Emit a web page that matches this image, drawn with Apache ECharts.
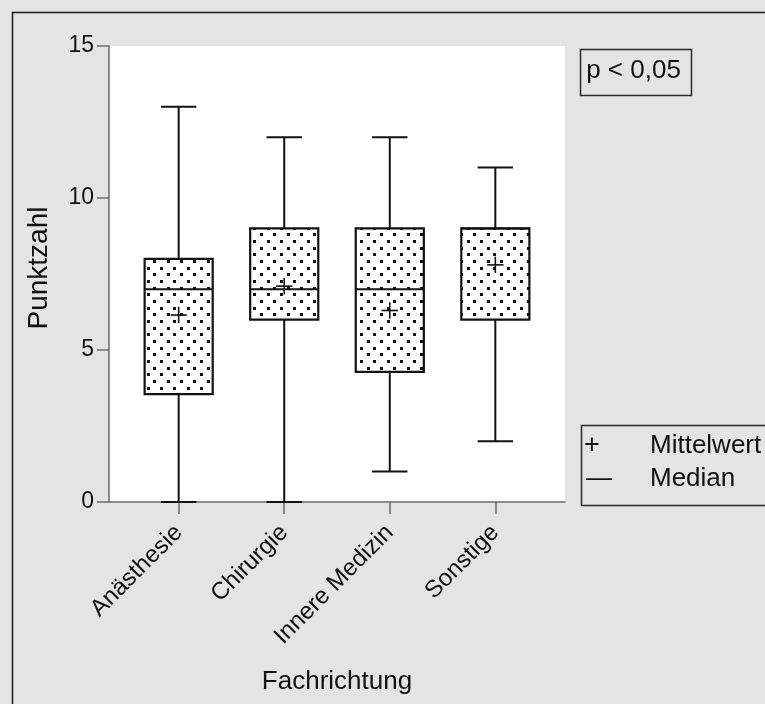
<!DOCTYPE html>
<html>
<head>
<meta charset="utf-8">
<script src="https://cdn.jsdelivr.net/npm/echarts@6/dist/echarts.min.js"></script>
<style>
html,body{margin:0;padding:0;background:#e4e4e4;}
#chart{width:765px;height:704px;}
</style>
</head>
<body>
<div id="chart"></div>
<script>
// ---- data ----
const categories = ['Anästhesie', 'Chirurgie', 'Innere Medizin', 'Sonstige'];
const minVals    = [0, 0, 1, 2];
const q1Vals     = [3.55, 6, 4.28, 6];
const medianVals = [7, 7, 7, 9];
const q3Vals     = [8, 9, 9, 9];
const maxVals    = [13, 12, 12, 11];
const meanVals   = [6.15, 7.1, 6.3, 7.8];
const yTicks     = [0, 5, 10, 15];
const pText      = 'p < 0,05';
const legendLabels = ['Mittelwert', 'Median'];
const legendSymbols = ['+', '—'];
const xTitle = 'Fachrichtung';
const yTitle = 'Punktzahl';

const FONT = "'Liberation Sans', Arial, Helvetica, sans-serif";

// dotted pattern tile
function makePattern() {
  const c = document.createElement('canvas');
  c.width = 40; c.height = 40;
  const g = c.getContext('2d');
  g.fillStyle = '#ffffff';
  g.fillRect(0, 0, 40, 40);
  g.fillStyle = '#111111';
  for (let r = 0; r < 6; r++) {
    const y = Math.round(r * 40 / 6);
    const off = (r % 2) * 40 / 6;
    for (let k = 0; k < 3; k++) {
      const x = Math.round(off + k * 40 / 3);
      g.fillRect(x, y, 3, 3);
    }
  }
  return c;
}
const patternCanvas = makePattern();

const boxData = categories.map((c, i) => [i, minVals[i], q1Vals[i], medianVals[i], q3Vals[i], maxVals[i], meanVals[i]]);

const BOX_W = 0.645, CAP_W = 0.335, PLUS_W = 0.155;

const chart = echarts.init(document.getElementById('chart'), null, {renderer: 'canvas'});
chart.setOption({
  backgroundColor: '#e4e4e4',
  animation: false,
  grid: {left: 109, top: 46, right: 200, bottom: 202, show: true, backgroundColor: '#ffffff', borderWidth: 0},
  xAxis: {
    type: 'value', min: -0.66, max: 3.66,
    name: xTitle, nameLocation: 'middle', nameGap: 167,
    nameTextStyle: {fontFamily: FONT, fontSize: 26, color: '#111'},
    axisLine: {show: true, onZero: false, lineStyle: {color: '#6b6b6b', width: 1.5}},
    axisTick: {show: true, length: 12, customValues: categories.map((c, i) => i), lineStyle: {color: '#6b6b6b', width: 1.5}},
    axisLabel: {show: true, customValues: categories.map((c, i) => i), rotate: 45, margin: 27,
      fontFamily: FONT, fontSize: 24, color: '#111',
      formatter: v => categories[Math.round(v)]},
    splitLine: {show: false}
  },
  yAxis: {
    type: 'value', min: 0, max: 15, interval: 5,
    name: yTitle, nameLocation: 'middle', nameGap: 56,
    nameTextStyle: {fontFamily: FONT, fontSize: 28, color: '#111', padding: [0, 0, 0, 12]},
    axisLine: {show: true, onZero: false, lineStyle: {color: '#6b6b6b', width: 1.5}},
    axisTick: {show: true, length: 12, lineStyle: {color: '#6b6b6b', width: 1.5}},
    axisLabel: {show: true, margin: 15, fontFamily: FONT, fontSize: 23, color: '#111',
      formatter: v => (yTicks.indexOf(v) >= 0 ? String(v) : '')},
    splitLine: {show: false}
  },
  series: [{
    type: 'custom',
    data: boxData,
    encode: {x: 0, y: [1, 2, 3, 4, 5, 6]},
    clip: false,
    renderItem: function (params, api) {
      const x = api.value(0);
      const pMin = api.coord([x, api.value(1)]);
      const pQ1 = api.coord([x, api.value(2)]);
      const pMed = api.coord([x, api.value(3)]);
      const pQ3 = api.coord([x, api.value(4)]);
      const pMax = api.coord([x, api.value(5)]);
      const pMean = api.coord([x, api.value(6)]);
      const bw = api.size([BOX_W, 0])[0];
      const cw = api.size([CAP_W, 0])[0];
      const pw = api.size([PLUS_W, 0])[0];
      const cx = pMin[0];
      const ls = {stroke: '#111', lineWidth: 2, fill: null};
      return {
        type: 'group',
        children: [
          {type: 'line', shape: {x1: cx, y1: pMax[1], x2: cx, y2: pQ3[1]}, style: ls},
          {type: 'line', shape: {x1: cx, y1: pQ1[1], x2: cx, y2: pMin[1]}, style: ls},
          {type: 'line', shape: {x1: cx - cw / 2, y1: pMax[1], x2: cx + cw / 2, y2: pMax[1]}, style: ls},
          {type: 'line', shape: {x1: cx - cw / 2, y1: pMin[1], x2: cx + cw / 2, y2: pMin[1]}, style: ls},
          {type: 'rect', shape: {x: cx - bw / 2, y: pQ3[1], width: bw, height: pQ1[1] - pQ3[1]},
            style: {fill: {image: patternCanvas, repeat: 'repeat'}, stroke: '#111', lineWidth: 2.2}},
          {type: 'line', shape: {x1: cx - bw / 2, y1: pMed[1], x2: cx + bw / 2, y2: pMed[1]}, style: ls},
          {type: 'line', shape: {x1: cx - pw / 2, y1: pMean[1], x2: cx + pw / 2, y2: pMean[1]}, style: {stroke: '#111', lineWidth: 1.6}},
          {type: 'line', shape: {x1: cx, y1: pMean[1] - pw / 2, x2: cx, y2: pMean[1] + pw / 2}, style: {stroke: '#111', lineWidth: 1.6}}
        ]
      };
    }
  }],
  graphic: [
    {type: 'rect', left: 10, top: 10, shape: {width: 900, height: 900}, style: {fill: null, stroke: '#1a1a1a', lineWidth: 1.5}, z: 100},
    {type: 'rect', left: 578, top: 47, shape: {width: 111, height: 46}, style: {fill: null, stroke: '#2a2a2a', lineWidth: 1.5}, z: 100},
    {type: 'text', x: 633.5, y: 71, style: {text: pText, fontFamily: FONT, fontSize: 26, fill: '#111', align: 'center', verticalAlign: 'middle'}, z: 100},
    {type: 'rect', left: 579, top: 423, shape: {width: 250, height: 80}, style: {fill: null, stroke: '#2a2a2a', lineWidth: 1.5}, z: 100},
    {type: 'text', x: 592, y: 446, style: {text: legendSymbols[0], fontFamily: FONT, fontSize: 27, fill: '#111', align: 'center', verticalAlign: 'middle'}, z: 100},
    {type: 'text', x: 599, y: 479, style: {text: legendSymbols[1], fontFamily: FONT, fontSize: 26, fill: '#111', align: 'center', verticalAlign: 'middle'}, z: 100},
    {type: 'text', x: 650, y: 446, style: {text: legendLabels[0], fontFamily: FONT, fontSize: 26, fill: '#111', align: 'left', verticalAlign: 'middle'}, z: 100},
    {type: 'text', x: 650, y: 479, style: {text: legendLabels[1], fontFamily: FONT, fontSize: 26, fill: '#111', align: 'left', verticalAlign: 'middle'}, z: 100}
  ]
});
</script>
</body>
</html>
